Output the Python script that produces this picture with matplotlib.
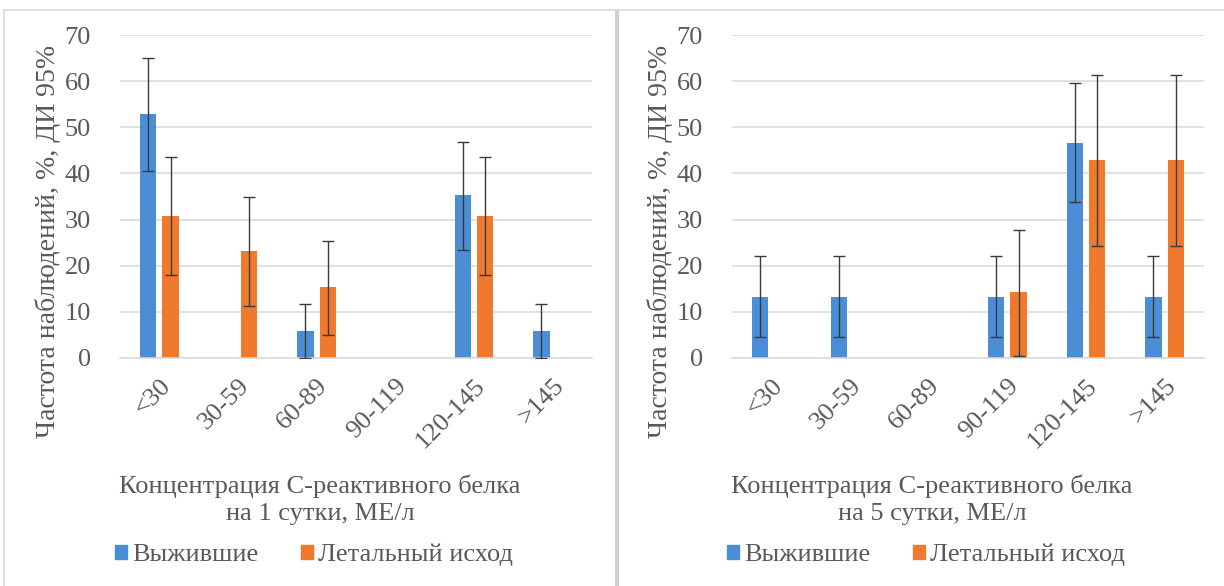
import matplotlib.pyplot as plt
import numpy as np
from matplotlib.lines import Line2D
from matplotlib.patches import Rectangle

plt.rcParams['font.family'] = ['Liberation Serif', 'DejaVu Serif']

groups = ['<30', '30-59', '60-89', '90-119', '120-145', '>145']
series = ['Выжившие', 'Летальный исход']

# day 1: percent of patients and 95% CI bounds
day1_surv = [52.9, 0, 5.9, 0, 35.3, 5.9]
day1_surv_lo = [40.5, 0, 0, 0, 23.4, 0]
day1_surv_hi = [65.0, 0, 11.6, 0, 46.9, 11.6]
day1_dead = [30.8, 23.1, 15.4, 0, 30.8, 0]
day1_dead_lo = [17.9, 11.3, 5.0, 0, 17.9, 0]
day1_dead_hi = [43.6, 34.8, 25.4, 0, 43.6, 0]

# day 5
day5_surv = [13.3, 13.3, 0, 13.3, 46.7, 13.3]
day5_surv_lo = [4.5, 4.5, 0, 4.5, 33.8, 4.5]
day5_surv_hi = [22.1, 22.1, 0, 22.1, 59.6, 22.1]
day5_dead = [0, 0, 0, 14.3, 42.9, 42.9]
day5_dead_lo = [0, 0, 0, 0.5, 24.3, 24.3]
day5_dead_hi = [0, 0, 0, 27.7, 61.4, 61.4]

titles = ['Концентрация С-реактивного белка\nна 1 сутки, МЕ/л',
          'Концентрация С-реактивного белка\nна 5 сутки, МЕ/л']
ylab = 'Частота наблюдений, %, ДИ 95%'

blue = '#4a8fd6'
orange = '#ef7a2e'
grey = '#595959'
grid = '#d9d9d9'
fs = 19

W, H = 1224, 586
fig = plt.figure(figsize=(W / 100, H / 100), dpi=100)

# chart frames
fig.add_artist(Line2D([4 / W, 1], [1 - 10 / H, 1 - 10 / H], transform=fig.transFigure,
                      color=grid, lw=1.2))
fig.add_artist(Line2D([4 / W, 4 / W], [0, 1 - 10 / H], transform=fig.transFigure,
                      color=grid, lw=1.2))
fig.add_artist(Rectangle((615 / W, 0), 3.5 / W, 1 - 10 / H, transform=fig.transFigure,
                         color='#cfcfcf', lw=0))


def draw(x0, surv, slo, shi, dead, dlo, dhi, title):
    ax = fig.add_axes([x0 / W, 1 - 358 / H, 472 / W, 323 / H])
    x = np.arange(len(groups))
    w = 0.21
    off = 0.142
    for vals, lo, hi, dx, col in [(surv, slo, shi, -off, blue), (dead, dlo, dhi, off, orange)]:
        vals = np.array(vals)
        ax.bar(x + dx, vals, w, color=col, zorder=2)
        has = np.array(hi) > 0
        err = np.vstack([vals - np.array(lo), np.array(hi) - vals])
        ax.errorbar((x + dx)[has], vals[has], yerr=err[:, has], fmt='none',
                    ecolor='#3a3a3a', elinewidth=1, capsize=4.5, capthick=1, zorder=3)
    ax.set_xlim(-0.5, len(groups) - 0.5)
    ax.set_ylim(0, 70)
    ax.set_yticks(range(0, 71, 10))
    ax.yaxis.grid(True, color=grid, lw=1.1, zorder=0)
    ax.set_axisbelow(True)
    for s in ['top', 'right', 'left']:
        ax.spines[s].set_visible(False)
    ax.spines['bottom'].set_color(grid)
    ax.spines['bottom'].set_linewidth(1.1)
    ax.tick_params(length=0, colors=grey, labelsize=fs, pad=21)
    ax.set_xticks(x)
    ax.set_xticklabels(groups, rotation=45, ha='right', rotation_mode='anchor')
    ax.tick_params(axis='x', pad=12)
    ax.set_ylabel(ylab, color=grey, fontsize=fs + 1)
    ax.yaxis.set_label_coords(-59 / 472, 0.36)
    fig.text((x0 + 200) / W, 1 - 500 / H, title, ha='center', va='center', color=grey,
             fontsize=fs, linespacing=1.3)
    handles = [Rectangle((0, 0), 1, 1, color=blue), Rectangle((0, 0), 1, 1, color=orange)]
    fig.legend(handles, series, loc='center', bbox_to_anchor=((x0 + 194) / W, 1 - 555 / H),
               ncol=2, frameon=False, fontsize=fs, handlelength=0.45, handleheight=0.45,
               handletextpad=0.2, columnspacing=1.6, labelcolor=grey)
    return ax


draw(120, day1_surv, day1_surv_lo, day1_surv_hi, day1_dead, day1_dead_lo, day1_dead_hi, titles[0])
draw(732, day5_surv, day5_surv_lo, day5_surv_hi, day5_dead, day5_dead_lo, day5_dead_hi, titles[1])

fig.savefig('out.png', dpi=100, facecolor='white')
